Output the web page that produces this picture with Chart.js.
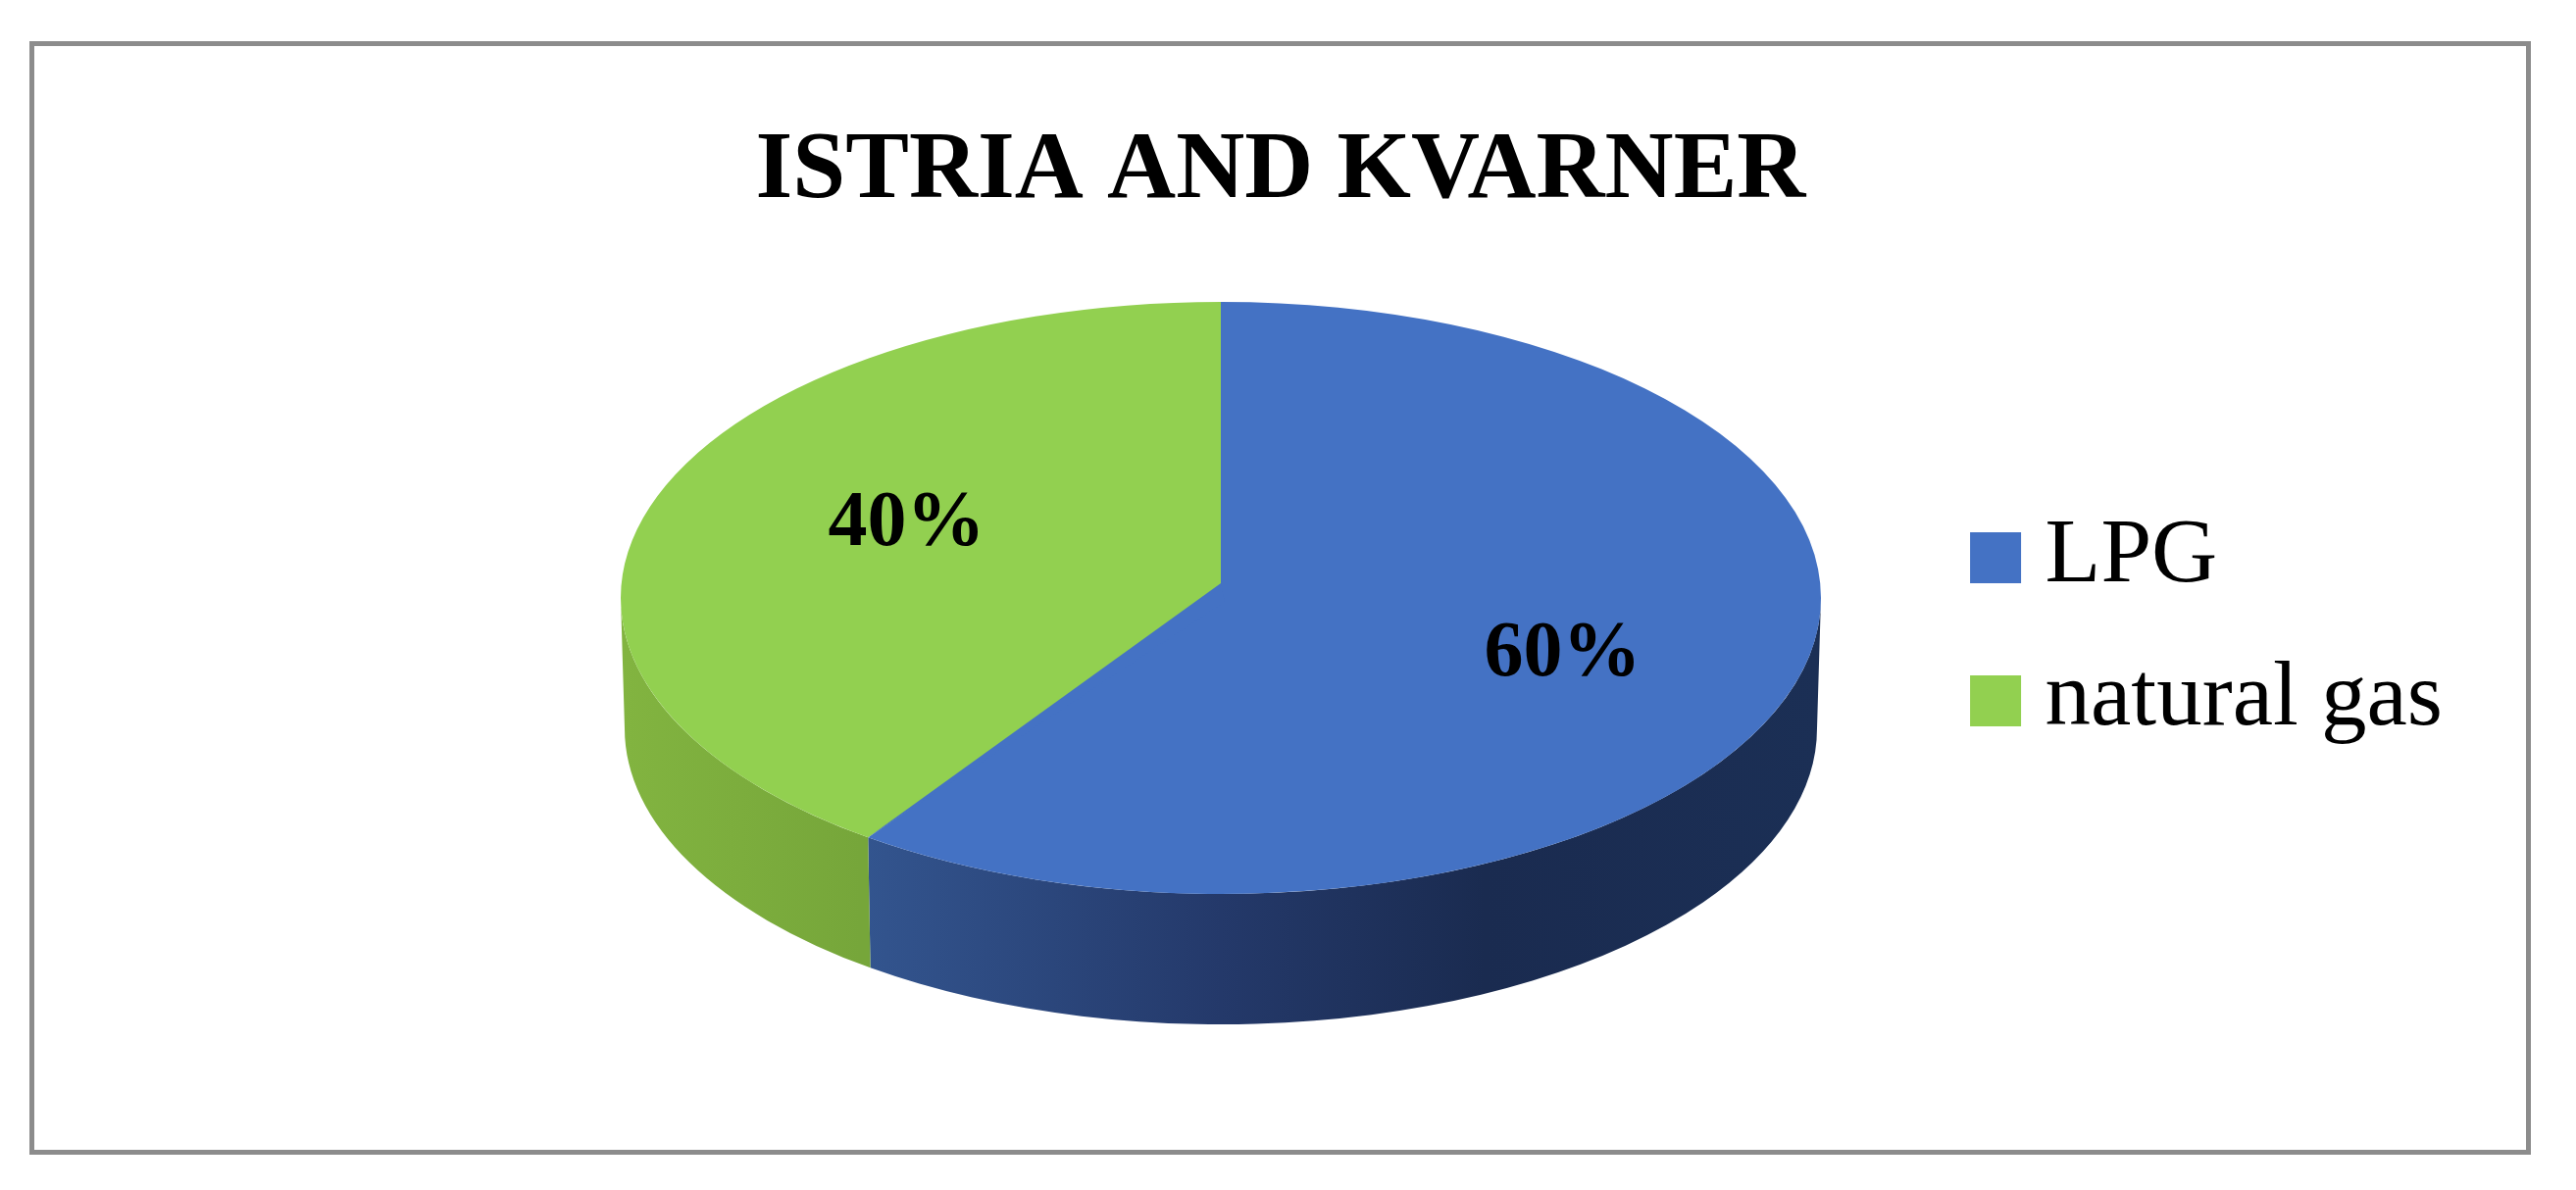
<!DOCTYPE html>
<html>
<head>
<meta charset="utf-8">
<title>Istria and Kvarner</title>
<script src="https://cdn.jsdelivr.net/npm/chart.js@4"></script>
<style>
    html, body { margin: 0; padding: 0; background: #fff; overflow: hidden; }
    #frame {
        position: absolute; left: 30px; top: 42px;
        width: 2541px; height: 1126px;
        border: 5px solid #8c8c8c;
    }
    canvas { display: block; }
</style>
</head>
<body>
<div id="frame"><canvas id="pieChart" width="2541" height="1126"></canvas></div>
<script>
const categories = ['LPG', 'natural gas'];
const shares = [60, 40];
const chartTitle = 'ISTRIA AND KVARNER';

const topColors = ['#4472c4', '#92d050'];

// Fake 3D: squash the pie into an ellipse and draw a side wall under it
const tilt3d = {
    id: 'tilt3d',
    beforeDatasetsDraw(chart, args, opts) {
        const ctx = chart.ctx;
        const arcs = chart.getDatasetMeta(0).data;
        const rx = arcs[0].outerRadius;
        const ry = rx * opts.tilt;

        // side wall, only the front half of the circle shows
        arcs.forEach((arc, i) => {
            const a0 = Math.max(arc.startAngle, 0);
            const a1 = Math.min(arc.endAngle, Math.PI);
            if (a1 <= a0) return;
            const grad = ctx.createLinearGradient(opts.x - rx, 0, opts.x + rx, 0);
            opts.wallStops[i].forEach(s => grad.addColorStop(s[0], s[1]));
            ctx.beginPath();
            ctx.ellipse(opts.x, opts.y, rx, ry, 0, a0, a1);
            ctx.ellipse(opts.x, opts.y + opts.depth, rx - opts.inset, ry, 0, a1, a0, true);
            ctx.closePath();
            ctx.fillStyle = grad;
            ctx.fill();
        });

        ctx.save();
        ctx.translate(opts.x, opts.y);
        ctx.scale(1, opts.tilt);
        ctx.translate(-arcs[0].x, -arcs[0].y);
    },
    afterDatasetsDraw(chart, args, opts) {
        const ctx = chart.ctx;
        ctx.restore();
        const arcs = chart.getDatasetMeta(0).data;
        const rx = arcs[0].outerRadius;
        const ry = rx * opts.tilt;

        // the apex sits a bit above the ellipse centre in the original
        const end = arcs[0].endAngle;
        ctx.beginPath();
        ctx.moveTo(opts.x, opts.y - opts.apexLift);
        ctx.lineTo(opts.x + 4, opts.y + 4);
        ctx.lineTo(opts.x + rx * Math.cos(end), opts.y + ry * Math.sin(end));
        ctx.closePath();
        ctx.fillStyle = topColors[0];
        ctx.fill();

        // percent labels
        ctx.fillStyle = '#000';
        ctx.font = opts.labelFont;
        ctx.textAlign = 'center';
        ctx.textBaseline = 'middle';
        arcs.forEach((arc, i) => {
            const mid = (arc.startAngle + arc.endAngle) / 2;
            const lx = opts.x + rx * opts.labelRadius * Math.cos(mid) + opts.labelNudge[i][0];
            const ly = opts.y + ry * opts.labelRadius * Math.sin(mid) + opts.labelNudge[i][1];
            ctx.fillText(shares[i] + '%', lx, ly);
        });
    }
};

new Chart(document.getElementById('pieChart').getContext('2d'), {
    type: 'pie',
    plugins: [tilt3d],
    data: {
        labels: categories,
        datasets: [{
            data: shares,
            backgroundColor: topColors,
            borderWidth: 0,
            radius: 612,
            clip: false
        }]
    },
    options: {
        responsive: false,
        animation: false,
        layout: {
            padding: { top: 71, bottom: 7, left: 76, right: 75 }
        },
        plugins: {
            title: {
                display: true,
                text: chartTitle,
                color: '#000',
                font: { family: "'Liberation Serif'", size: 97, weight: 'bold' },
                padding: 0
            },
            legend: {
                position: 'right',
                labels: {
                    color: '#000',
                    font: { family: "'Liberation Serif'", size: 93 },
                    usePointStyle: true,
                    pointStyle: 'rect',
                    boxWidth: 8,
                    boxHeight: 52,
                    padding: 53
                }
            },
            tooltip: { enabled: false },
            tilt3d: {
                x: 1210,
                y: 563,
                tilt: 0.4935,
                depth: 133,
                inset: 4,
                apexLift: 15,
                labelFont: "bold 80px 'Liberation Serif'",
                labelRadius: 0.59,
                labelNudge: [[5, 3], [23, -20]],
                wallStops: [
                    [[0.2, '#33558f'], [0.5, '#24396a'], [0.72, '#1a2b50'], [1, '#1b2f55']],
                    [[0, '#82b440'], [0.2, '#76a63a']]
                ]
            }
        }
    }
});
</script>
</body>
</html>
